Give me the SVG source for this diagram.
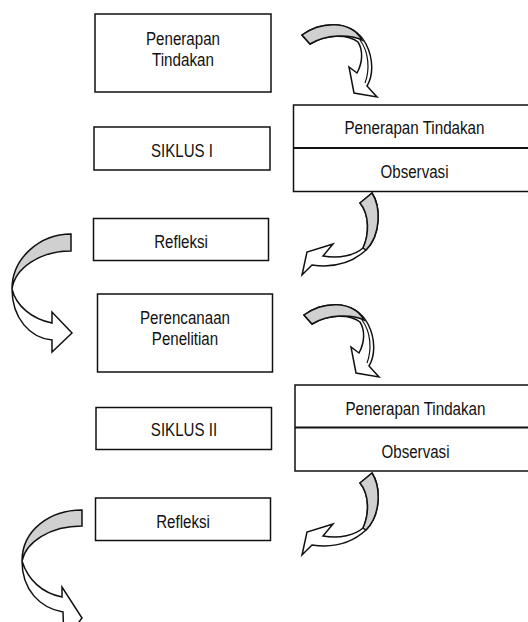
<svg xmlns="http://www.w3.org/2000/svg" width="528" height="622" viewBox="0 0 528 622">
<style>
.box{fill:#fff;stroke:#111;stroke-width:1.5}
.div{stroke:#111;stroke-width:2.2}
.t{font-family:"Liberation Sans",Arial,sans-serif;font-size:17.5px;fill:#111;text-anchor:middle}
.aw{fill:#fff;stroke:#111;stroke-width:1.5;stroke-linejoin:miter}
.ag{fill:#d0d0d0;stroke:#111;stroke-width:1.5}
.al{fill:none;stroke:#111;stroke-width:1.2}
</style>
<defs>
<g id="arrowDown">
<path class="aw" d="M302,35 C320,22 352,18 366,44 C374,60 373,76 367,86 L377,97 L354,93 L349,67 L357,73 C363,62 363,50 358,42 C348,34 326,34 310,44 Z"/>
<path class="ag" d="M302,35 C320,22 350,19 362,40 C350,34 326,34 310,44 Z"/>
<path class="al" d="M360,40 C369,52 370,70 365,83"/>
</g>
<g id="arrowLeft">
<path class="aw" d="M372,193 C381,207 381,235 366,250 C352,263 333,268 312,265 L302,275 L307,252 L333,244 L323,256 C340,259 355,255 363,248 C369,235 370,215 360,203 Z"/>
<path class="ag" d="M372,193 C381,207 381,235 366,250 L363,248 C369,235 370,215 360,203 Z"/>
</g>
</defs>
<g id="n1"><rect class="box" x="95" y="14" width="176" height="78"/><text class="t" x="183" y="45" textLength="74" lengthAdjust="spacingAndGlyphs">Penerapan</text><text class="t" x="183" y="65.5" textLength="62" lengthAdjust="spacingAndGlyphs">Tindakan</text></g>
<g id="n2"><rect class="box" x="94" y="127" width="176" height="43"/><text class="t" x="182" y="156.5" textLength="62" lengthAdjust="spacingAndGlyphs">SIKLUS I</text></g>
<g id="n3"><rect class="box" x="293.5" y="105" width="243" height="86.5"/><line class="div" x1="293.5" y1="148" x2="536" y2="148"/><text class="t" x="414.5" y="134" textLength="140" lengthAdjust="spacingAndGlyphs">Penerapan Tindakan</text><text class="t" x="414.5" y="178.3" textLength="68" lengthAdjust="spacingAndGlyphs">Observasi</text></g>
<g id="n4"><rect class="box" x="93.5" y="218.5" width="175" height="42"/><text class="t" x="181" y="248.3" textLength="53.7" lengthAdjust="spacingAndGlyphs">Refleksi</text></g>
<g id="n5"><rect class="box" x="97.5" y="294" width="175" height="78"/><text class="t" x="185" y="324" textLength="90" lengthAdjust="spacingAndGlyphs">Perencanaan</text><text class="t" x="185" y="345" textLength="66.3" lengthAdjust="spacingAndGlyphs">Penelitian</text></g>
<g id="n6"><rect class="box" x="96" y="407.5" width="175.5" height="42"/><text class="t" x="184" y="436" textLength="66.3" lengthAdjust="spacingAndGlyphs">SIKLUS II</text></g>
<g id="n7"><rect class="box" x="95.5" y="498" width="175" height="42.5"/><text class="t" x="183" y="527.7" textLength="53.7" lengthAdjust="spacingAndGlyphs">Refleksi</text></g>
<g id="n8"><rect class="box" x="295" y="385" width="241" height="86"/><line class="div" x1="295" y1="427.5" x2="536" y2="427.5"/><text class="t" x="415.5" y="415" textLength="140" lengthAdjust="spacingAndGlyphs">Penerapan Tindakan</text><text class="t" x="415.5" y="457.7" textLength="68" lengthAdjust="spacingAndGlyphs">Observasi</text></g>
<g id="connectors">
<use href="#arrowDown"/>
<use href="#arrowLeft"/>
<g id="c3">
<path class="ag" d="M71,234 C40,234 12,258 12,289 C15,268 40,251 71,251 Z"/>
<path class="aw" d="M12,289 C12,318 30,338 52,340 L52,352 L72,333 L52,312 L52,323 C32,319 16,306 12,289 Z"/>
</g>
<use href="#arrowDown" transform="translate(2,280)"/>
<use href="#arrowLeft" transform="translate(0,280)"/>
<g id="c6">
<path class="ag" d="M82,510 C50,510 22,530 22,561 C26,542 50,526 82,526 Z"/>
<path class="aw" d="M22,561 C22,590 40,608 63,612 L64,642 L82,618 L62,587 L62,597 C42,593 28,580 22,561 Z"/>
</g>
</g>
</svg>
